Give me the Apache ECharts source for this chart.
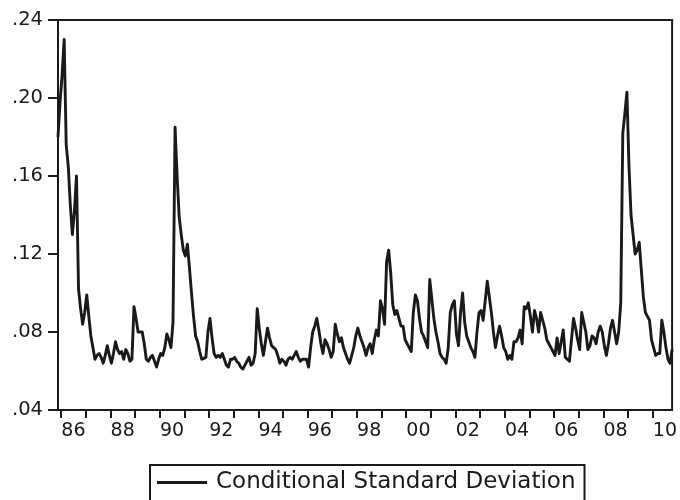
<!DOCTYPE html>
<html>
<head>
<meta charset="utf-8">
<title>Conditional Standard Deviation</title>
<script src="https://cdn.jsdelivr.net/npm/echarts@6/dist/echarts.min.js"></script>
<style>
  html, body { margin: 0; padding: 0; background: #fff; }
  #chart { width: 680px; height: 500px; }
</style>
</head>
<body>
<div id="chart"></div>
<script>
// Monthly series, first observation 1985:11
const startYear = 1985;
const startMonth = 11;

const conditionalSD = [
  0.180, 0.198, 0.212, 0.230, 0.176, 0.165, 0.145, 0.130, 0.142, 0.160,
  0.102, 0.092, 0.084, 0.090, 0.099, 0.088, 0.078, 0.072, 0.066, 0.068,
  0.069, 0.067, 0.064, 0.068, 0.073, 0.068, 0.064, 0.069, 0.075, 0.071,
  0.069, 0.070, 0.066, 0.071, 0.069, 0.065, 0.066, 0.093, 0.087, 0.080,
  0.080, 0.080, 0.074, 0.066, 0.065, 0.067, 0.068, 0.065, 0.062, 0.066,
  0.069, 0.068, 0.072, 0.079, 0.076, 0.072, 0.085, 0.185, 0.160, 0.139,
  0.130, 0.122, 0.119, 0.125, 0.113, 0.100, 0.088, 0.078, 0.075, 0.070,
  0.066, 0.0665, 0.067, 0.080, 0.087, 0.077, 0.069, 0.067, 0.068, 0.067,
  0.069, 0.066, 0.063, 0.062, 0.066, 0.066, 0.067, 0.065, 0.064, 0.062,
  0.061, 0.063, 0.065, 0.067, 0.063, 0.064, 0.069, 0.092, 0.082, 0.074,
  0.068, 0.075, 0.082, 0.077, 0.073, 0.072, 0.071, 0.068, 0.064, 0.066,
  0.065, 0.063, 0.066, 0.067, 0.066, 0.068, 0.070, 0.067, 0.065, 0.066,
  0.066, 0.066, 0.062, 0.072, 0.080, 0.083, 0.087, 0.081, 0.074, 0.069,
  0.076, 0.074, 0.071, 0.067, 0.070, 0.084, 0.079, 0.075, 0.077, 0.072,
  0.069, 0.066, 0.064, 0.068, 0.072, 0.078, 0.082, 0.078, 0.075, 0.072,
  0.068, 0.072, 0.074, 0.069, 0.076, 0.081, 0.078, 0.096, 0.092, 0.084,
  0.116, 0.122, 0.110, 0.094, 0.089, 0.091, 0.087, 0.083, 0.083, 0.076,
  0.074, 0.072, 0.070, 0.090, 0.099, 0.096, 0.087, 0.080, 0.078, 0.075,
  0.072, 0.107, 0.097, 0.087, 0.080, 0.075, 0.069, 0.067, 0.066, 0.064,
  0.072, 0.090, 0.094, 0.096, 0.079, 0.073, 0.090, 0.100, 0.085, 0.078,
  0.075, 0.072, 0.070, 0.067, 0.080, 0.090, 0.091, 0.086, 0.096, 0.106,
  0.098, 0.090, 0.080, 0.072, 0.078, 0.083, 0.078, 0.072, 0.070, 0.066,
  0.068, 0.066, 0.075, 0.075, 0.077, 0.081, 0.074, 0.093, 0.092, 0.095,
  0.088, 0.080, 0.091, 0.087, 0.080, 0.090, 0.086, 0.082, 0.076, 0.074,
  0.072, 0.070, 0.068, 0.077, 0.069, 0.075, 0.081, 0.067, 0.066, 0.065,
  0.076, 0.087, 0.082, 0.076, 0.071, 0.090, 0.085, 0.080, 0.071, 0.073,
  0.078, 0.077, 0.074, 0.080, 0.083, 0.080, 0.073, 0.068, 0.074, 0.082,
  0.086, 0.080, 0.074, 0.080, 0.095, 0.182, 0.192, 0.203, 0.165, 0.140,
  0.130, 0.120, 0.122, 0.126, 0.112, 0.098, 0.090, 0.088, 0.086, 0.076,
  0.072, 0.068, 0.069, 0.069, 0.086, 0.080, 0.072, 0.066, 0.064, 0.071
];

// Year labels, one every second year
const yearLabels = ['86', '88', '90', '92', '94', '96', '98', '00', '02', '04', '06', '08', '10'];
const yTicks = [0.04, 0.08, 0.12, 0.16, 0.20, 0.24];

// x is the month index counted from the first observation
const janIndex = (year) => (year - startYear) * 12 + (1 - startMonth);
const seriesData = conditionalSD.map((v, i) => [i, v]);

// year boundaries carry the tick marks, labels sit mid-year
const tickPositions = [];
for (let y = 1986; y <= 2010; y++) tickPositions.push(janIndex(y) - 0.5);
const labelPositions = yearLabels.map((s, k) => janIndex(1986 + 2 * k) + 5.5);

const font = '"DejaVu Sans", "Liberation Sans", Arial, sans-serif';
const ink = '#1a1a1a';

const chart = echarts.init(document.getElementById('chart'), null, { renderer: 'canvas' });
chart.setOption({
  animation: false,
  backgroundColor: '#ffffff',
  grid: {
    left: 58, right: 6, top: 20, bottom: 90,
    show: true, borderColor: ink, borderWidth: 2, backgroundColor: 'transparent'
  },
  xAxis: {
    type: 'value',
    min: 0,
    max: conditionalSD.length - 1,
    axisLine: { show: true, lineStyle: { color: ink, width: 2 } },
    axisTick: {
      show: true, inside: false, length: 8,
      lineStyle: { color: ink, width: 2 },
      customValues: tickPositions
    },
    axisLabel: {
      show: true, margin: 12, color: ink, fontSize: 19, fontFamily: font,
      customValues: labelPositions,
      formatter: (val) => {
        const k = labelPositions.findIndex(p => Math.abs(p - val) < 0.01);
        return k >= 0 ? yearLabels[k] : '';
      }
    },
    splitLine: { show: false }
  },
  yAxis: {
    type: 'value',
    min: yTicks[0],
    max: yTicks[yTicks.length - 1],
    interval: 0.04,
    axisLine: { show: true, lineStyle: { color: ink, width: 2 } },
    axisTick: { show: true, inside: false, length: 10, lineStyle: { color: ink, width: 2 } },
    axisLabel: {
      margin: 15, color: ink, fontSize: 19.5, fontFamily: font,
      formatter: (v) => v.toFixed(2).replace(/^0/, '')
    },
    splitLine: { show: false }
  },
  legend: {
    data: ['Conditional Standard Deviation'],
    left: 150,
    top: 465,
    padding: [6, 9, 30, 7],
    borderColor: ink,
    borderWidth: 2,
    itemWidth: 50,
    itemHeight: 3,
    itemGap: 0,
    icon: 'rect',
    textStyle: { color: ink, fontSize: 23, fontFamily: font, padding: [0, 0, 0, 4] }
  },
  series: [{
    name: 'Conditional Standard Deviation',
    type: 'line',
    data: seriesData,
    showSymbol: false,
    symbol: 'none',
    lineStyle: { color: ink, width: 2.9, join: 'round' },
    itemStyle: { color: ink }
  }]
});
</script>
</body>
</html>
